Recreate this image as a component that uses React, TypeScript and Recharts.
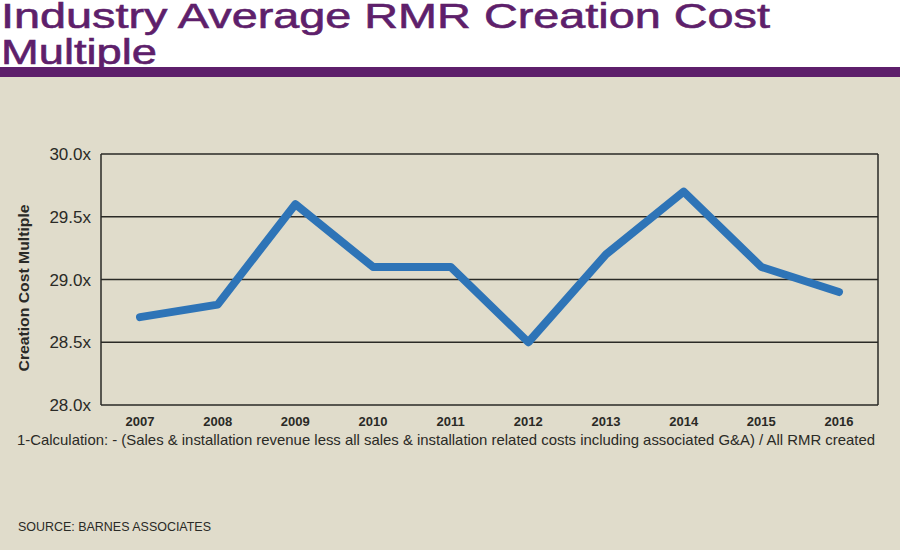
import React from "react";
import { LineChart, Line, XAxis, YAxis, CartesianGrid } from "recharts";

const years = ["2007", "2008", "2009", "2010", "2011", "2012", "2013", "2014", "2015", "2016"];
const multiples = [28.7, 28.8, 29.6, 29.1, 29.1, 28.5, 29.2, 29.7, 29.1, 28.9];
const yTicks = [28, 28.5, 29, 29.5, 30];

const data = years.map((year, i) => ({ year, multiple: multiples[i] }));

const SANS = "'Liberation Sans', Arial, sans-serif";
const PURPLE = "#5e1f6b";
const BG = "#e0dccb";
const INK = "#2a2a26";

function AxisTitle() {
    return (
        <text
            x={29}
            y={288}
            transform="rotate(-90 29 288)"
            textAnchor="middle"
            fontFamily={SANS}
            fontWeight="bold"
            fontSize={15}
            fill={INK}
            textLength={167}
            lengthAdjust="spacingAndGlyphs"
        >
            Creation Cost Multiple
        </text>
    );
}

export default function App() {
    return (
        <div
            style={{
                position: "fixed",
                left: 0,
                top: 0,
                width: 900,
                height: 550,
                background: BG,
                overflow: "hidden",
            }}
        >
            {/* white header band with the two-line title, purple rule underneath */}
            <svg width={900} height={77} style={{ position: "absolute", left: 0, top: 0 }}>
                <rect x={0} y={0} width={900} height={67} fill="#fff" />
                <g fontFamily={SANS} fontSize={34.5} fill={PURPLE} stroke={PURPLE} strokeWidth={0.6}>
                    <text x={1} y={28} textLength={769} lengthAdjust="spacingAndGlyphs">
                        Industry Average RMR Creation Cost
                    </text>
                    <text x={1} y={64} textLength={156} lengthAdjust="spacingAndGlyphs">
                        Multiple
                    </text>
                </g>
                <rect x={0} y={67} width={900} height={10} fill={PURPLE} />
            </svg>

            <div style={{ position: "absolute", left: 0, top: 0 }}>
                <LineChart width={900} height={550} data={data} margin={{ top: 154, right: 22, bottom: 115, left: 0 }}>
                    <CartesianGrid stroke={INK} strokeWidth={1.5} verticalPoints={[101, 878]} />
                    <XAxis
                        dataKey="year"
                        padding={{ left: 39, right: 39 }}
                        axisLine={false}
                        tickLine={false}
                        tickMargin={6}
                        height={30}
                        tick={{ fontSize: 13, fontWeight: "bold", fill: INK, fontFamily: SANS }}
                    />
                    <YAxis
                        width={101}
                        domain={[28, 30]}
                        ticks={yTicks}
                        tickFormatter={(v: number) => `${v.toFixed(1)}x`}
                        axisLine={false}
                        tickLine={false}
                        tickMargin={4}
                        tick={{ fontSize: 17, fill: INK, fontFamily: SANS }}
                        label={{ content: () => <AxisTitle /> }}
                    />
                    <Line
                        type="linear"
                        dataKey="multiple"
                        stroke="#2e74b7"
                        strokeWidth={8}
                        strokeLinecap="round"
                        strokeLinejoin="round"
                        dot={false}
                        activeDot={false}
                        isAnimationActive={false}
                    />
                </LineChart>
            </div>

            <svg width={900} height={120} style={{ position: "absolute", left: 0, top: 430 }}>
                <g fontFamily={SANS} fill={INK}>
                    <text x={17} y={15} fontSize={14.5} textLength={858} lengthAdjust="spacingAndGlyphs">
                        1-Calculation: - (Sales &amp; installation revenue less all sales &amp; installation related costs including associated G&amp;A) / All RMR created
                    </text>
                    <text x={18} y={101} fontSize={13.5} textLength={193} lengthAdjust="spacingAndGlyphs">
                        SOURCE: BARNES ASSOCIATES
                    </text>
                </g>
            </svg>
        </div>
    );
}
